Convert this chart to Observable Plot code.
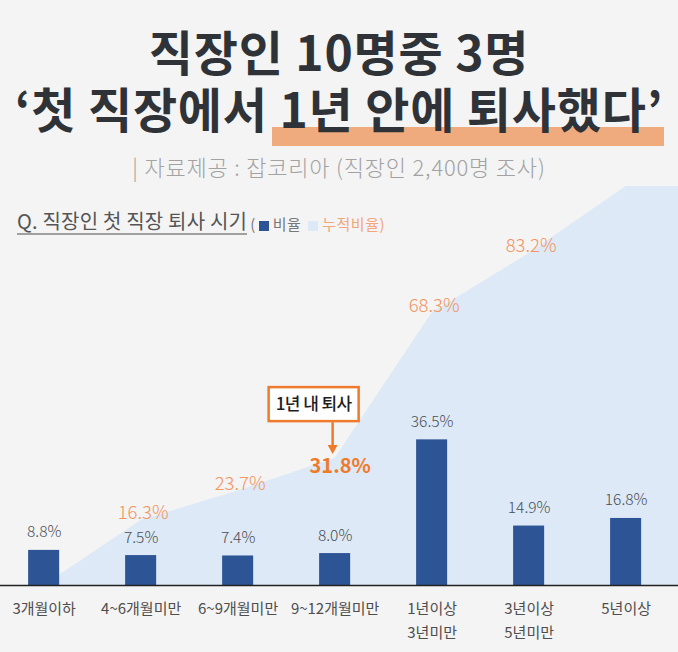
<!DOCTYPE html>
<html>
<head>
<meta charset="utf-8">
<script src="https://cdn.jsdelivr.net/npm/d3@7"></script>
<script src="https://cdn.jsdelivr.net/npm/@observablehq/plot@0.6"></script>
<style>
  html, body { margin: 0; padding: 0; background: #f4f4f4; }
  #wrap { position: relative; width: 678px; height: 652px; overflow: hidden; background: #f4f4f4;
          font-family: "Noto Sans CJK KR", "Noto Sans", sans-serif; }
  #header { position: relative; width: 678px; height: 180px; }
  #title { position: absolute; left: 0; top: 22px; width: 678px; text-align: center; font-size: 48px; line-height: 57px;
           font-weight: 700; color: #2f3338; white-space: pre; z-index: 2; letter-spacing: 0.8px; }
  #hl { position: absolute; left: 272px; top: 127px; width: 392px; height: 19px; background: #efab7d; z-index: 1; }
  #sub { position: absolute; left: 0; width: 678px; top: 153px; text-align: center; font-size: 22px; line-height: 26px;
         color: #a2a2a2; font-weight: 300; letter-spacing: 0.8px; white-space: nowrap; }
  #legend { position: absolute; left: 17px; top: 209px; z-index: 3; white-space: nowrap; display: flex; align-items: center; }
  #legend .q { font-size: 20px; line-height: 23px; color: #555; letter-spacing: 0.2px; padding-bottom: 1px;
               border-bottom: 2px solid #a0a0a0; }
  #legend .s { font-size: 15px; color: #777; margin-left: 3px; margin-top: 2px; letter-spacing: 0.5px; }
  #legend .sw { display: inline-block; width: 10px; height: 10px; vertical-align: -1px; margin: 0 4px 0 3px; }
  #chart { position: absolute; left: 0; top: 180px; }
</style>
</head>
<body>
<div id="wrap">
  <div id="header">
    <div id="hl"></div>
    <div id="title"></div>
    <div id="sub"></div>
  </div>
  <div id="legend"></div>
  <div id="chart"></div>
</div>
<script>
// ---- data ----
const titleLine1 = "직장인 10명중 3명";
const titleLine2 = "‘첫 직장에서 1년 안에 퇴사했다’";
const subtitle = "| 자료제공 : 잡코리아 (직장인 2,400명  조사)";
const question = "Q. 직장인 첫 직장 퇴사 시기";
const legendRatio = "비율";
const legendCum = "누적비율";
const categories = ["3개월이하", "4~6개월미만", "6~9개월미만", "9~12개월미만", "1년이상\n3년미만", "3년이상\n5년미만", "5년이상"];
const ratio = [8.8, 7.5, 7.4, 8.0, 36.5, 14.9, 16.8];
const ratioLabels = ["8.8%", "7.5%", "7.4%", "8.0%", "36.5%", "14.9%", "16.8%"];
// cumulative area as drawn (starts from 0 at the first category)
const cumulative = [0, 16.3, 23.7, 31.8, 68.3, 83.2, 100];
const cumLabels = ["", "16.3%", "23.7%", "31.8%", "68.3%", "83.2%", ""];
const highlightIndex = 3;
const annotationText = "1년 내 퇴사";

// ---- colors ----
const barColor = "#2d5494";
const areaColor = "#dde9f6";
const cumColor = "#f4935c";
const hiColor = "#f07a2b";

// ---- header ----
document.getElementById("title").textContent = titleLine1 + "\n" + titleLine2;
document.getElementById("sub").textContent = subtitle;
document.getElementById("legend").innerHTML =
  `<span class="q">${question}</span><span class="s">(<i class="sw" style="background:${barColor}"></i>${legendRatio} <i class="sw" style="background:${areaColor}"></i><span style="color:#f2a67a">${legendCum})</span></span>`;

// ---- chart ----
const idx = d3.range(categories.length);
const rows = idx.map(i => ({i, ratio: ratio[i], rLabel: ratioLabels[i], cum: cumulative[i], cLabel: cumLabels[i]}));
const xDomain = [-0.45, 6.54];
const areaRows = rows.map(r => ({x: r.i, y: r.cum}))
  .concat([{x: xDomain[1], y: cumulative[cumulative.length - 1]}]);
const barHalf = 0.16;

function annotationMark(index, scales, values, dimensions, context) {
  const px = scales.x(highlightIndex);
  const py = scales.y(cumulative[highlightIndex]);
  const g = d3.create("svg:g");
  const bx = px - 66, by = py - 71, bw = 90, bh = 34;
  g.append("rect").attr("x", bx).attr("y", by).attr("width", bw).attr("height", bh)
    .attr("fill", "#ffffff").attr("stroke", hiColor).attr("stroke-width", 2.5);
  g.append("text").attr("x", bx + bw / 2).attr("y", by + bh / 2).attr("dy", "0.35em")
    .attr("text-anchor", "middle").attr("font-size", 17).attr("font-weight", 500)
    .attr("letter-spacing", "-0.6").attr("fill", "#1e1e1e").text(annotationText);
  const ax = px - 2;
  g.append("line").attr("x1", ax).attr("x2", ax).attr("y1", by + bh + 1).attr("y2", py - 12)
    .attr("stroke", hiColor).attr("stroke-width", 2.5);
  g.append("path").attr("d", `M${ax - 5},${py - 13}L${ax + 5},${py - 13}L${ax},${py - 4}Z`).attr("fill", hiColor);
  return g.node();
}

const chart = Plot.plot({
  width: 678,
  height: 472,
  marginTop: 6,
  marginBottom: 67,
  marginLeft: 0,
  marginRight: 0,
  style: {background: "transparent", fontFamily: "\"Noto Sans CJK KR\", \"Noto Sans\", sans-serif", overflow: "visible"},
  x: {type: "linear", domain: xDomain},
  y: {domain: [0, 100], axis: null},
  marks: [
    Plot.areaY(areaRows, {x: "x", y: "y", fill: areaColor}),
    Plot.rectY(rows, {x1: d => d.i - barHalf, x2: d => d.i + barHalf, y: "ratio", fill: barColor}),
    Plot.ruleY([0], {stroke: "#222", strokeWidth: 1.6}),
    Plot.text(rows, {x: "i", y: "ratio", text: "rLabel", dy: -18, fontSize: 15.5, fontWeight: 300, fill: "#4a4f55", letterSpacing: "-0.5"}),
    Plot.text(rows.filter(r => r.cLabel && r.i !== highlightIndex), {x: "i", y: "cum", text: "cLabel", dx: 2, dy: -7, fontSize: 18.5, fontWeight: 300, fill: cumColor, letterSpacing: "-1"}),
    Plot.text(rows.filter(r => r.i === highlightIndex), {x: "i", y: "cum", text: "cLabel", dx: 5, dy: 8, fontSize: 20, fontWeight: 700, fill: hiColor, letterSpacing: "-1"}),
    Plot.axisX({ticks: idx, tickFormat: i => categories[i], tickSize: 0, tickPadding: 11, fontSize: 15, lineHeight: 1.6, color: "#4e4e4e", letterSpacing: "-0.8"}),
    annotationMark
  ]
});
document.getElementById("chart").appendChild(chart);
</script>
</body>
</html>
